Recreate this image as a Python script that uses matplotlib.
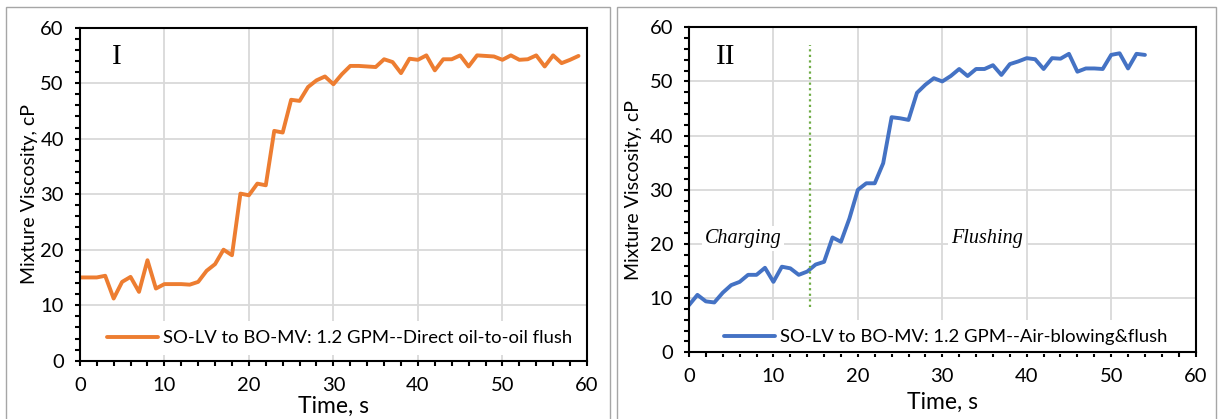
import numpy as np
import matplotlib
matplotlib.use("Agg")
import matplotlib.pyplot as plt
from matplotlib.patches import Rectangle
from matplotlib.ticker import MultipleLocator

# --- data ---
time_direct = list(range(0, 60))
visc_direct = [15.0, 15.0, 15.0, 15.3, 11.2, 14.2, 15.1, 12.4, 18.1, 13.0,
               13.8, 13.8, 13.8, 13.7, 14.2, 16.2, 17.4, 20.0, 19.0, 30.1,
               29.8, 31.9, 31.6, 41.4, 41.1, 47.0, 46.8, 49.3, 50.5, 51.2,
               49.8, 51.6, 53.1, 53.1, 53.0, 52.9, 54.3, 53.8, 51.8, 54.4,
               54.2, 55.0, 52.3, 54.3, 54.3, 55.0, 53.0, 55.0, 54.9, 54.8,
               54.2, 55.0, 54.2, 54.3, 55.0, 53.0, 55.0, 53.6, 54.2, 54.9]

time_air = list(range(0, 55))
visc_air = [8.7, 10.6, 9.4, 9.2, 11.0, 12.4, 13.0, 14.3, 14.3, 15.6,
            13.0, 15.8, 15.5, 14.3, 14.9, 16.2, 16.7, 21.2, 20.4, 24.7,
            30.0, 31.2, 31.2, 34.9, 43.4, 43.2, 42.9, 47.9, 49.4, 50.6,
            50.0, 51.0, 52.3, 51.0, 52.3, 52.3, 53.0, 51.2, 53.2, 53.7,
            54.3, 54.1, 52.3, 54.3, 54.2, 55.1, 51.8, 52.4, 52.4, 52.3,
            54.9, 55.2, 52.4, 55.1, 54.9]

label_direct = "SO-LV to BO-MV: 1.2 GPM--Direct oil-to-oil flush"
label_air = "SO-LV to BO-MV: 1.2 GPM--Air-blowing&flush"
switch_time = 14.3
switch_range = [8.4, 56.7]

sans = "Lato"
serif = "Liberation Serif"

fig = plt.figure(figsize=(12.19, 4.19), dpi=100)

# gray panel frames
fig.patches.append(Rectangle((6 / 1219, -0.05), 604 / 1219, 1.05 - 7 / 419,
                             transform=fig.transFigure, fill=False,
                             edgecolor="#a6a6a6", lw=1.0))
fig.patches.append(Rectangle((617 / 1219, -0.05), 599 / 1219, 1.05 - 7 / 419,
                             transform=fig.transFigure, fill=False,
                             edgecolor="#a6a6a6", lw=1.0))

ax1 = fig.add_axes([0.0655, 0.1391, 0.416, 0.795])
ax2 = fig.add_axes([0.5652, 0.1592, 0.4156, 0.7757])


def style_axes(ax):
    ax.set_xlim(0, 60)
    ax.set_ylim(0, 60)
    ax.xaxis.set_major_locator(MultipleLocator(10))
    ax.yaxis.set_major_locator(MultipleLocator(10))
    ax.xaxis.set_minor_locator(MultipleLocator(2))
    ax.yaxis.set_minor_locator(MultipleLocator(2))
    ax.grid(True, which="major", color="#d9d9d9", lw=1.3)
    ax.set_axisbelow(True)
    for sp in ax.spines.values():
        sp.set_linewidth(1.5)
        sp.set_color("black")
    ax.tick_params(which="both", direction="out", length=3.5, width=1.5,
                   top=False, right=False)
    ax.tick_params(which="major", labelsize=14.5, pad=8)
    for lab in ax.get_xticklabels() + ax.get_yticklabels():
        lab.set_fontfamily(sans)


style_axes(ax1)
style_axes(ax2)

ax1.plot(time_direct, visc_direct, color="#ed7d31", lw=2.8,
         solid_joinstyle="round", solid_capstyle="round", label=label_direct)
ax2.plot(time_air, visc_air, color="#4472c4", lw=2.8,
         solid_joinstyle="round", solid_capstyle="round", label=label_air)
ax2.plot([switch_time, switch_time], switch_range, color="#70ad47", lw=1.6,
         ls=(0, (1, 1.5)))

for ax, name, ypos in [(ax1, "I", 0.911), (ax2, "II", 0.909)]:
    ax.text(0.072, ypos, name, transform=ax.transAxes, fontsize=21,
            family=serif, ha="center", va="center")

for txt, xv in [("Charging", 6.4), ("Flushing", 35.3)]:
    ax2.text(xv, 21, txt, fontsize=14.5, family=serif, style="italic",
             ha="center", va="center",
             bbox=dict(facecolor="white", edgecolor="none", pad=2))

for ax, lx, ly in [(ax1, -0.1, -0.138), (ax2, -0.11, -0.153)]:
    ax.set_ylabel("Mixture Viscosity, cP", fontsize=14, family=sans)
    ax.set_xlabel("Time, s", fontsize=16.5, family=sans)
    ax.yaxis.set_label_coords(lx, 0.5)
    ax.xaxis.set_label_coords(0.5, ly)
    ax.xaxis.label.set_va("center")
    ax.yaxis.label.set_va("center")

for ax, cx, cy in [(ax1, 0.512, 0.068), (ax2, 0.507, 0.047)]:
    leg = ax.legend(loc="center", bbox_to_anchor=(cx, cy), frameon=True,
                    fancybox=False, edgecolor="none", facecolor="white",
                    framealpha=1, prop={"family": sans, "size": 13.3},
                    handlelength=2.75, handletextpad=0.3, borderpad=0.5)
    leg.set_zorder(2.2)

fig.savefig("out.png", dpi=100)
